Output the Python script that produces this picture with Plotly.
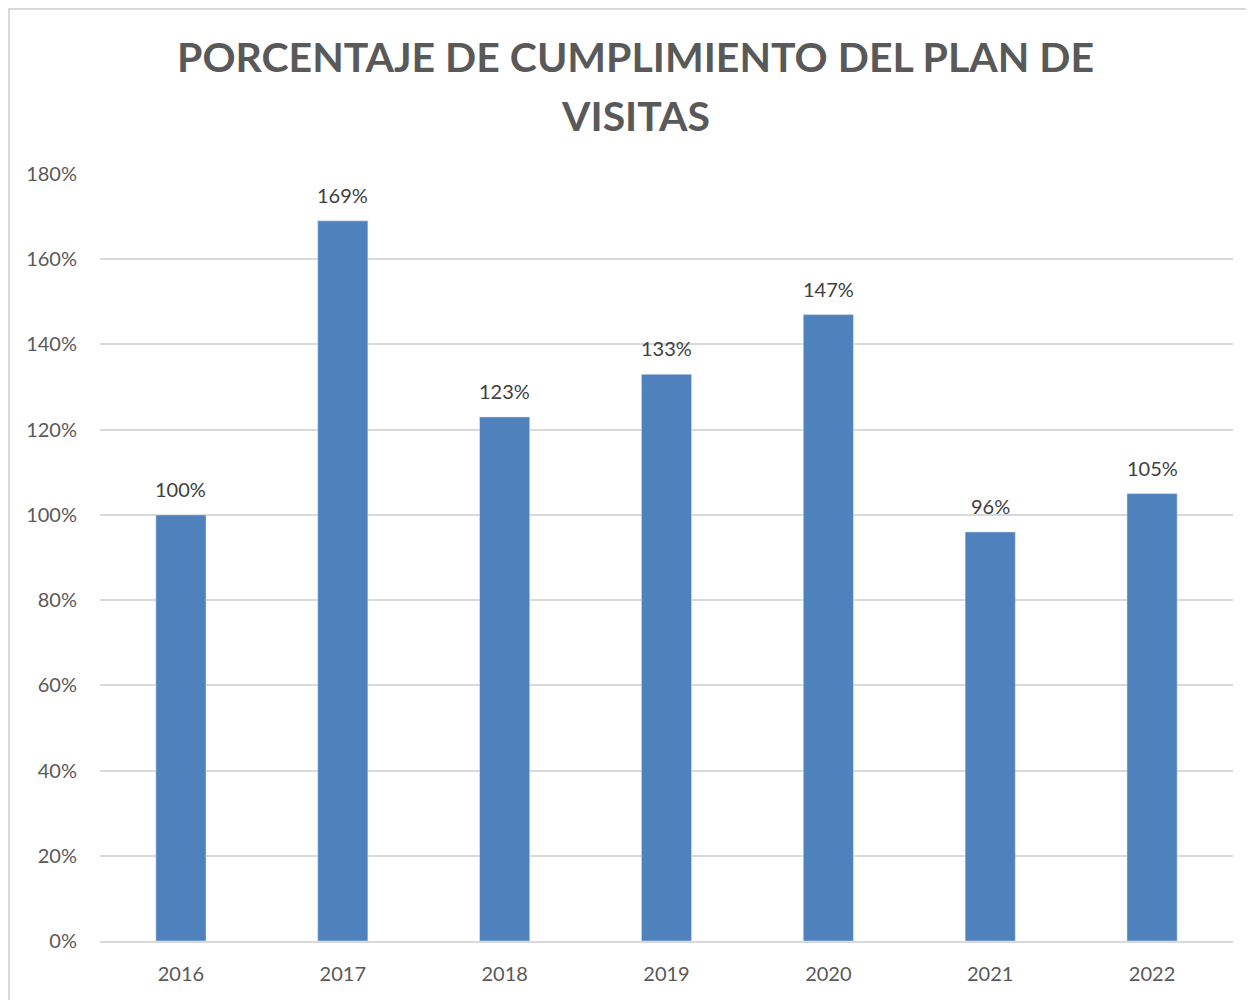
import plotly.graph_objects as go

years = ["2016", "2017", "2018", "2019", "2020", "2021", "2022"]
values = [1.00, 1.69, 1.23, 1.33, 1.47, 0.96, 1.05]
labels = ["100%", "169%", "123%", "133%", "147%", "96%", "105%"]
tick_vals = [0, 0.2, 0.4, 0.6, 0.8, 1.0, 1.2, 1.4, 1.6, 1.8]
tick_text = ["0%", "20%", "40%", "60%", "80%", "100%", "120%", "140%", "160%", "180%"]
title_lines = ["PORCENTAJE DE CUMPLIMIENTO DEL PLAN DE", "VISITAS"]

# page is rendered with an 8px body margin; figure coords = page coords - 8
W, H = 1246, 992
L, R, T, B = 92, 21, 166, 59
pw, ph = W - L - R, H - T - B

def px(x):
    return (x - L) / pw

def py(y):
    return (H - B - y) / ph

FONT = "Lato, Calibri, sans-serif"

fig = go.Figure()
fig.add_trace(go.Bar(
    x=years, y=values,
    marker=dict(color="#4F81BD"),
))

annotations = []
for i, (v, lab) in enumerate(zip(values, labels)):
    # category axis: annotation x is the category index
    annotations.append(dict(x=i, y=v, xref="x", yref="y", text=lab, showarrow=False,
                            yanchor="bottom", yshift=12,
                            font=dict(family=FONT, size=20, color="#404040")))
for i, line in enumerate(title_lines):
    annotations.append(dict(x=px(627), y=py(49 + 58 * i), xref="paper", yref="paper",
                            text=line, showarrow=False, xanchor="center", yanchor="middle",
                            font=dict(family=FONT, size=41, color="#595959", weight="bold")))

fig.update_layout(
    width=W, height=H,
    margin=dict(l=L, r=R, t=T, b=B),
    paper_bgcolor="white", plot_bgcolor="white",
    bargap=0.69,
    showlegend=False,
    font=dict(family=FONT, size=20, color="#595959"),
    xaxis=dict(type="category", range=[-0.5, len(years) - 0.5],
               showgrid=False, showline=True, linecolor="#D9D9D9", linewidth=2,
               ticks="", ticklabelstandoff=14, tickfont=dict(size=20, color="#595959")),
    yaxis=dict(range=[0, 1.8], tickvals=tick_vals, ticktext=tick_text,
               showgrid=True, gridcolor="#D9D9D9", gridwidth=1.5,
               zeroline=False, showline=False, ticks="", ticklabelstandoff=22,
               tickfont=dict(size=20, color="#595959")),
    annotations=annotations,
    shapes=[dict(type="rect", xref="paper", yref="paper",
                 x0=px(1), x1=px(W + 10), y0=py(H + 10), y1=py(1),
                 line=dict(color="#D9D9D9", width=2), fillcolor="rgba(0,0,0,0)", layer="below")],
)

fig.write_html("out.html")
